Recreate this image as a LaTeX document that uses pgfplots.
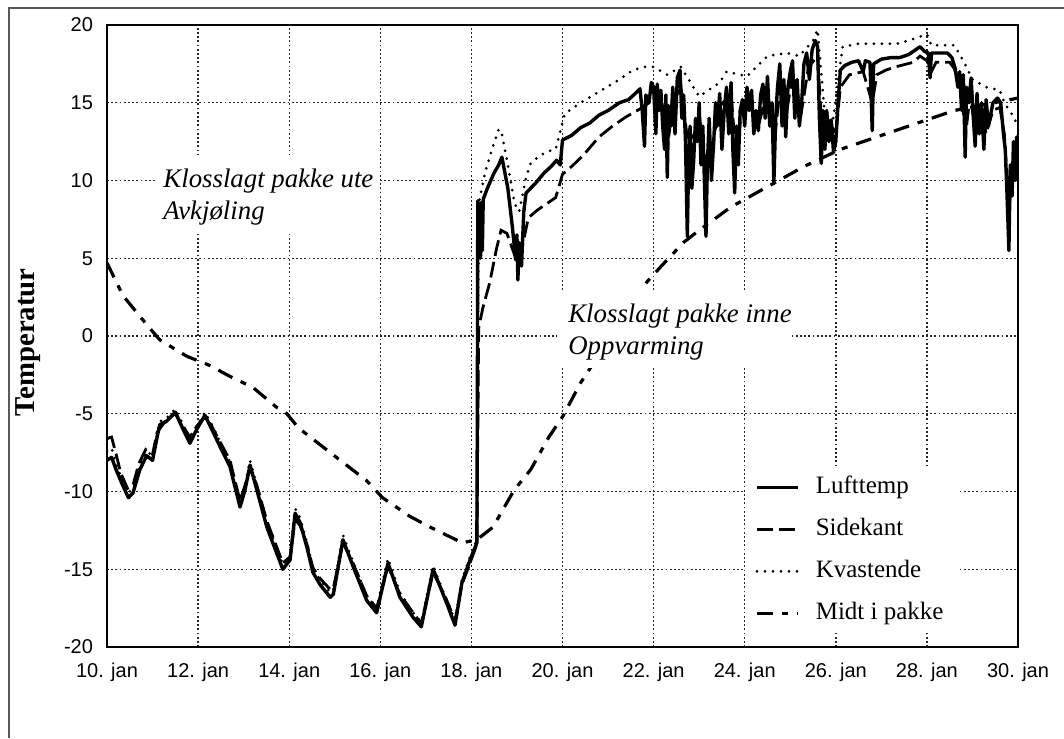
\documentclass[border=0pt]{standalone}
\usepackage{fontspec}
\setmainfont{Liberation Serif}
\newfontfamily\tickfont{Liberation Sans}
\usepackage{pgfplots}
\pgfplotsset{compat=1.18}
\begin{document}
\begin{tikzpicture}
\useasboundingbox (-53.5pt,-45.5pt) rectangle (478.5pt,323.5pt);
\draw[black!65,line width=0.8pt] (-49pt,-45.5pt) -- (-49pt,319.5pt) -- (478.5pt,319.5pt);
\begin{axis}[
  scale only axis, width=455.5pt, height=311pt,
  xmin=10, xmax=30, ymin=-20, ymax=20,
  xtick={10,12,...,30},
  xticklabels={10. jan,12. jan,14. jan,16. jan,18. jan,20. jan,22. jan,24. jan,26. jan,28. jan,30. jan},
  ytick={-20,-15,...,20},
  yticklabels={-20,-15,-10,-5,0,5,10,15,20},
  major tick length=0pt,
  tick label style={font=\tickfont\fontsize{10}{12}\selectfont},
  xticklabel style={yshift=-4.5pt},
  yticklabel style={xshift=-3.5pt},
  grid=major,
  major grid style={black!85, line width=0.7pt, dash pattern=on 0.9pt off 1.2pt},
  axis line style={black, line width=0.9pt},
  ylabel={\bfseries Temperatur},
  every axis y label/.style={at={(axis description cs:-0.0867,0.49)}, rotate=90, anchor=center, font=\fontsize{14.4}{16}\selectfont},
  legend style={font=\fontsize{12.5}{14}\selectfont, draw=none, fill=white,
    at={(0.7003,0.2862)}, anchor=north west, inner xsep=5pt, inner ysep=1pt,
    row sep=5pt, nodes={inner sep=2pt, text height=9pt, text depth=3pt},
    /tikz/every odd column/.append style={column sep=6pt}},
  legend cell align=left,
  legend image code/.code={\draw[#1] (0pt,0pt) -- (20.5pt,0pt);},
]
% Lufttemp
\addplot[black, line width=1.7pt, line join=round] coordinates {
(10.00,-8.0) (10.10,-7.8) (10.20,-8.6) (10.30,-9.3) (10.47,-10.4) (10.57,-10.1) (10.72,-8.6) (10.87,-7.7)
(11.00,-8.0) (11.10,-6.5) (11.16,-5.7) (11.30,-5.5) (11.50,-4.9) (11.67,-6.0) (11.82,-6.9) (11.97,-6.0)
(12.15,-5.1) (12.30,-6.0) (12.48,-7.1) (12.70,-8.4) (12.92,-11.0) (13.03,-9.9) (13.14,-8.3) (13.29,-9.9)
(13.51,-12.3) (13.73,-14.0) (13.86,-15.0) (14.02,-14.4) (14.13,-11.4) (14.24,-12.0) (14.39,-13.6) (14.52,-15.2)
(14.68,-16.0) (14.90,-16.8) (14.97,-16.6) (15.18,-13.1) (15.40,-14.8) (15.70,-17.0) (15.92,-17.8) (16.17,-14.6)
(16.43,-16.8) (16.72,-18.1) (16.90,-18.7) (17.16,-15.0) (17.46,-17.2) (17.64,-18.6) (17.79,-15.9) (17.97,-14.4)
(18.12,-13.3) (18.13,-5.0) (18.14,8.7) (18.16,5.3) (18.18,8.5) (18.20,5.0) (18.22,8.6) (18.24,5.5) (18.26,8.8)
(18.35,9.5) (18.50,10.5) (18.60,11.0)
(18.67,11.5) (18.80,9.5) (18.90,7.0) (18.97,4.9) (19.00,6.5) (19.02,3.6) (19.05,6.0) (19.10,4.5) (19.15,8.0)
(19.20,9.2) (19.40,9.8) (19.60,10.5) (19.75,10.9) (19.87,11.3) (19.95,11.0) (20.00,12.6) (20.20,12.9) (20.40,13.4)
(20.60,13.7) (20.80,14.2) (21.00,14.5) (21.25,15.0) (21.45,15.2) (21.60,15.6) (21.70,15.9) (21.75,14.5) (21.80,12.2) (21.83,15.5) (21.90,15.0)
(21.95,16.3) (22.00,16.0) (22.05,13.0) (22.08,16.2) (22.12,14.5) (22.16,15.8) (22.20,13.5) (22.24,12.0)
(22.27,15.5) (22.30,10.2) (22.33,14.8) (22.38,13.5) (22.42,16.0) (22.47,13.0) (22.52,16.6) (22.58,17.1)
(22.62,14.0) (22.66,15.5) (22.70,12.5) (22.74,6.4) (22.77,11.5) (22.80,13.5) (22.84,9.5) (22.88,11.3)
(22.92,14.0) (22.96,12.5) (23.00,15.0) (23.04,11.0) (23.08,13.5) (23.12,9.5) (23.15,6.4) (23.18,11.0)
(23.22,14.0) (23.27,10.0) (23.32,12.5) (23.36,15.0) (23.40,13.5) (23.45,15.6) (23.50,12.0) (23.55,14.5)
(23.60,16.0) (23.65,13.0) (23.70,16.3) (23.74,12.0) (23.78,9.2) (23.82,13.5) (23.86,11.0) (23.90,14.5)
(23.95,15.2) (24.00,13.5) (24.05,16.0) (24.10,14.5) (24.15,15.8) (24.20,13.0) (24.25,14.5) (24.30,13.2)
(24.35,15.5) (24.40,16.2) (24.45,14.0) (24.50,16.7) (24.55,13.5) (24.60,15.0) (24.64,9.8) (24.68,14.0)
(24.72,16.0) (24.77,17.5) (24.82,13.5) (24.86,16.5) (24.90,12.8) (24.95,16.0) (25.00,17.0) (25.05,17.7)
(25.10,14.0) (25.15,16.5) (25.20,13.5) (25.25,15.0) (25.30,17.5) (25.36,18.2) (25.42,16.5) (25.48,18.4)
(25.55,19.0) (25.60,18.6) (25.64,14.0) (25.68,11.1) (25.72,14.5) (25.76,12.0) (25.80,14.5) (25.85,12.5)
(25.90,13.9) (25.95,11.8) (26.00,12.5) (26.05,15.0) (26.10,17.1) (26.20,17.4) (26.35,17.6) (26.50,17.7)
(26.60,17.0) (26.65,17.7) (26.75,17.6) (26.80,13.2) (26.83,17.5) (27.00,17.8) (27.20,17.9) (27.40,17.9)
(27.60,18.1) (27.75,18.4) (27.85,18.6) (27.95,18.3) (28.03,18.2) (28.07,16.6) (28.10,18.2) (28.30,18.2)
(28.45,18.2) (28.55,17.9) (28.62,17.2) (28.68,16.0) (28.72,17.0) (28.76,14.5) (28.80,16.8) (28.84,11.5)
(28.87,16.0) (28.92,15.0) (28.97,16.6) (29.02,14.0) (29.06,12.2) (29.10,15.6) (29.15,13.0) (29.20,15.0)
(29.25,12.0) (29.30,15.2) (29.35,13.5) (29.45,15.0) (29.55,15.3) (29.62,15.0) (29.68,13.0) (29.72,12.0)
(29.76,9.0) (29.80,5.5) (29.83,11.0) (29.87,9.0) (29.90,12.5) (29.94,10.0) (29.97,12.8) (30.00,11.8)
};
\addlegendentry{Lufttemp}
% Sidekant
\addplot[black, line width=1.4pt, dash pattern=on 8pt off 3pt] coordinates {
(10.00,-6.6) (10.10,-6.5) (10.20,-7.6) (10.30,-8.8) (10.45,-9.8) (10.57,-9.6) (10.70,-8.2) (10.85,-7.3)
(11.00,-7.6) (11.10,-6.2) (11.30,-5.4) (11.50,-5.0) (11.67,-5.8) (11.82,-6.5) (11.97,-5.8) (12.15,-5.2)
(12.30,-5.8) (12.48,-6.8) (12.70,-8.0) (12.92,-10.6) (13.03,-9.6) (13.14,-8.5) (13.29,-9.6) (13.51,-11.9)
(13.73,-13.6) (13.86,-14.6) (14.02,-14.2) (14.13,-11.8) (14.24,-12.2) (14.39,-13.4) (14.52,-14.9) (14.68,-15.6)
(14.90,-16.3) (14.97,-16.2) (15.18,-13.3) (15.40,-14.6) (15.70,-16.7) (15.92,-17.5) (16.17,-14.8) (16.43,-16.6)
(16.72,-17.8) (16.90,-18.5) (17.16,-15.2) (17.46,-17.0) (17.64,-18.3) (17.79,-16.0) (17.97,-14.6) (18.12,-13.4)
(18.16,0.5) (18.25,1.8) (18.40,3.4) (18.55,5.6) (18.65,6.8) (18.78,6.6) (18.90,5.6) (19.00,4.8) (19.10,5.5)
(19.25,7.6) (19.45,8.1) (19.65,8.5) (19.85,8.9) (20.00,10.4) (20.20,10.9) (20.45,11.6) (20.80,12.8)
(21.10,13.5) (21.40,14.1) (21.70,14.6) (22.00,15.2) (22.20,14.8) (22.30,12.0) (22.40,14.5) (22.60,16.0)
(22.75,12.5) (22.90,13.0) (23.00,14.2) (23.15,11.0) (23.30,12.5) (23.45,14.8) (23.70,15.5) (23.80,12.0)
(23.95,14.5) (24.10,15.0) (24.30,13.5) (24.50,15.8) (24.65,12.5) (24.80,16.6) (24.90,14.0) (25.05,16.8)
(25.25,14.5) (25.40,17.3) (25.60,18.0) (25.70,13.0) (25.85,13.8) (26.00,13.0) (26.10,16.0) (26.30,16.8)
(26.60,17.0) (26.80,15.0) (26.90,16.8) (27.10,17.1) (27.30,17.3) (27.70,17.6) (27.85,18.0) (28.00,17.7)
(28.10,17.0) (28.20,17.6) (28.50,17.6) (28.60,17.2) (28.75,15.8) (28.85,13.0) (28.95,15.5) (29.05,13.5)
(29.20,14.6) (29.30,13.0) (29.45,14.5) (29.60,14.7) (29.70,13.0) (29.80,8.0) (29.90,11.5) (30.00,11.0)
};
\addlegendentry{Sidekant}
% Kvastende
\addplot[black, line width=1.5pt, line cap=round, dash pattern=on 0pt off 4pt] coordinates {
(10.00,-7.4) (10.10,-7.2) (10.20,-8.2) (10.30,-9.0) (10.47,-10.1) (10.57,-9.8) (10.72,-8.3) (10.87,-7.4)
(11.00,-7.7) (11.10,-6.3) (11.16,-5.5) (11.30,-5.3) (11.50,-4.7) (11.67,-5.7) (11.82,-6.6) (11.97,-5.8)
(12.15,-4.9) (12.30,-5.7) (12.48,-6.8) (12.70,-8.1) (12.92,-10.7) (13.03,-9.6) (13.14,-8.0) (13.29,-9.6)
(13.51,-12.0) (13.73,-13.7) (13.86,-14.7) (14.02,-14.1) (14.13,-11.1) (14.24,-11.7) (14.39,-13.3) (14.52,-14.9)
(14.68,-15.7) (14.90,-16.5) (14.97,-16.3) (15.18,-12.8) (15.40,-14.5) (15.70,-16.7) (15.92,-17.5) (16.17,-14.3)
(16.43,-16.5) (16.72,-17.8) (16.90,-18.4) (17.16,-14.8) (17.46,-17.0) (17.64,-18.3) (17.79,-15.7) (17.97,-14.2)
(18.12,-13.1) (18.16,8.5) (18.30,10.5) (18.45,12.0) (18.60,13.3) (18.67,13.0) (18.80,11.0) (18.95,8.5)
(19.05,8.0) (19.20,10.2) (19.30,11.1) (19.50,11.6) (19.70,11.9) (19.85,12.0) (20.05,14.3) (20.40,15.0)
(20.80,15.7) (21.25,16.5) (21.55,17.1) (21.80,17.3) (22.00,17.3) (22.30,16.8) (22.60,17.3) (23.00,15.4)
(23.45,16.3) (23.60,17.0) (24.05,16.7) (24.50,18.0) (24.93,18.2) (25.20,18.0) (25.50,19.0) (25.60,19.7)
(25.75,14.5) (25.95,14.0) (26.05,16.5) (26.15,18.6) (26.50,18.8) (26.95,18.8) (27.35,18.8) (27.60,19.0)
(27.80,19.2) (28.00,19.4) (28.10,18.7) (28.30,18.7) (28.60,18.7) (28.80,17.7) (29.00,16.5) (29.30,16.0)
(29.60,15.8) (29.70,15.0) (29.90,14.1) (30.00,13.5)
};
\addlegendentry{Kvastende}
% Midt i pakke
\addplot[black, line width=1.6pt, dash pattern=on 8pt off 4.5pt on 3pt off 4.5pt] coordinates {
(10.00,4.7) (10.35,2.6) (10.88,0.7) (11.16,-0.25) (11.75,-1.3) (12.26,-1.9) (12.70,-2.6) (13.20,-3.3)
(13.73,-4.6) (13.95,-5.0) (14.20,-5.9) (14.90,-7.5) (15.70,-9.3) (16.05,-10.4) (16.65,-11.6) (17.10,-12.3)
(17.80,-13.3) (18.12,-13.1) (18.47,-12.3) (18.94,-9.9) (19.30,-8.6) (19.70,-6.5) (20.00,-5.2) (20.40,-3.0)
(21.86,3.5) (22.14,4.4) (22.65,6.0) (23.00,6.8) (23.70,8.3) (24.50,9.6) (25.30,10.9) (26.10,12.0)
(27.30,13.2) (28.60,14.5) (29.30,14.9) (30.00,15.3)
};
\addlegendentry{Midt i pakke}
\fill[white] (axis cs:11.05,6.62) rectangle (axis cs:15.95,11.64);
\fill[white] (axis cs:19.88,-2.06) rectangle (axis cs:25.04,2.96);
\node[anchor=base west, inner sep=0pt, font=\itshape\fontsize{13.4}{15}\selectfont] at (axis cs:11.23,9.52) {Klosslagt pakke ute};
\node[anchor=base west, inner sep=0pt, font=\itshape\fontsize{13.4}{15}\selectfont] at (axis cs:11.23,7.46) {Avkjøling};
\node[anchor=base west, inner sep=0pt, font=\itshape\fontsize{13.4}{15}\selectfont] at (axis cs:20.12,0.9) {Klosslagt pakke inne};
\node[anchor=base west, inner sep=0pt, font=\itshape\fontsize{13.4}{15}\selectfont] at (axis cs:20.12,-1.22) {Oppvarming};
\end{axis}
\end{tikzpicture}
\end{document}
